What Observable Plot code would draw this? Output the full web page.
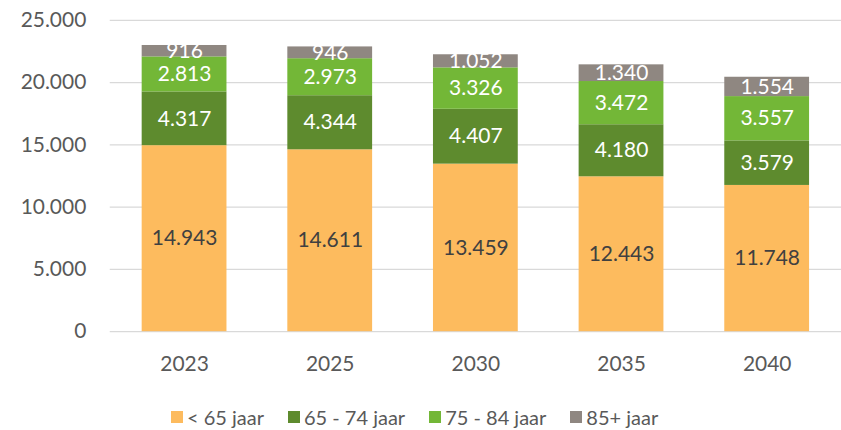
<!DOCTYPE html>
<html>
<head>
<meta charset="utf-8">
<script src="https://cdn.jsdelivr.net/npm/d3@7"></script>
<script src="https://cdn.jsdelivr.net/npm/@observablehq/plot@0.6"></script>
<style>
  html, body { margin: 0; padding: 0; background: #fff; }
  body { width: 841px; height: 430px; position: relative; font-family: Lato, "Open Sans", sans-serif; overflow: hidden; }
  #chart { position: absolute; left: 0; top: 0; }
  #legend { position: absolute; left: 171px; top: 404px; display: flex; gap: 24px; font-size: 20px; color: #595959; line-height: 26px; }
  .item { display: flex; align-items: center; gap: 4px; }
  .sw { width: 12px; height: 12px; display: inline-block; }
</style>
</head>
<body>
<div id="chart"></div>
<div id="legend"></div>
<script>
const years = ["2023", "2025", "2030", "2035", "2040"];
const groups = ["< 65 jaar", "65 - 74 jaar", "75 - 84 jaar", "85+ jaar"];
const colors = ["#FDBB5E", "#5E8B2E", "#73B737", "#8F8781"];
const under65 = [14943, 14611, 13459, 12443, 11748];
const age65to74 = [4317, 4344, 4407, 4180, 3579];
const age75to84 = [2813, 2973, 3326, 3472, 3557];
const age85plus = [916, 946, 1052, 1340, 1554];
const yTicks = [0, 5000, 10000, 15000, 20000, 25000];

const series = [under65, age65to74, age75to84, age85plus];
const data = [];
groups.forEach((g, gi) => years.forEach((y, yi) => data.push({year: y, group: g, value: series[gi][yi]})));

const nl = d3.formatLocale({decimal: ",", thousands: ".", grouping: [3], currency: ["€", ""]});
const fmt = nl.format(",d");

const chart = Plot.plot({
  width: 843,
  height: 380,
  marginLeft: 110,
  marginRight: 0,
  marginTop: 20,
  marginBottom: 48,
  style: {fontFamily: "Lato, 'Open Sans', sans-serif", fontSize: "21px", color: "#595959", background: "#fff", overflow: "visible"},
  x: {domain: years, label: null, paddingInner: 0.415, paddingOuter: 0.2075, tickSize: 0, tickPadding: 24},
  y: {domain: [0, 25000], ticks: yTicks, label: null, tickSize: 0, tickPadding: 24, tickFormat: fmt},
  color: {domain: groups, range: colors},
  marks: [
    Plot.gridY(yTicks, {stroke: "#d9d9d9", strokeOpacity: 1, strokeWidth: 1.3}),
    Plot.barY(data, {x: "year", y: "value", z: "group", fill: "group"}),
    Plot.text(data, Plot.stackY({x: "year", y: "value", z: "group",
      text: d => d.group === groups[0] ? fmt(d.value) : "", fill: "#404040", fontSize: 21})),
    Plot.text(data, Plot.stackY({x: "year", y: "value", z: "group",
      text: d => d.group !== groups[0] ? fmt(d.value) : "", fill: "white", fontSize: 21}))
  ]
});
document.getElementById("chart").appendChild(chart);

const legend = document.getElementById("legend");
groups.forEach((g, i) => {
  const it = document.createElement("div");
  it.className = "item";
  const sw = document.createElement("span");
  sw.className = "sw";
  sw.style.background = colors[i];
  const t = document.createElement("span");
  t.textContent = g;
  it.appendChild(sw); it.appendChild(t);
  legend.appendChild(it);
});
</script>
</body>
</html>
